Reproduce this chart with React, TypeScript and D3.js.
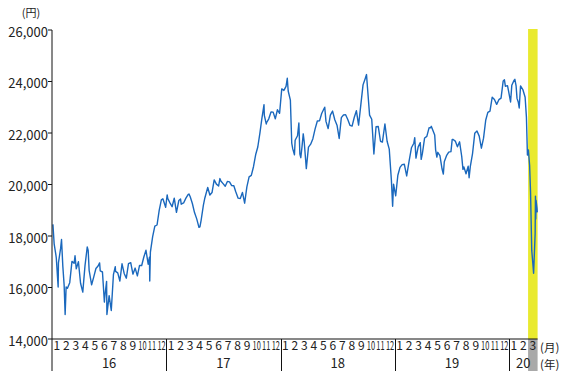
import React from "react";
import * as d3 from "d3";

// Nikkei-style closing prices, date strings and values per year
const dates2016 = ["2016-01-04","2016-01-08","2016-01-14","2016-01-15","2016-01-21","2016-01-22","2016-01-29","2016-02-01","2016-02-05","2016-02-09","2016-02-12","2016-02-15","2016-02-19","2016-02-26","2016-03-04","2016-03-11","2016-03-14","2016-03-18","2016-03-25","2016-04-01","2016-04-08","2016-04-15","2016-04-22","2016-04-25","2016-04-28","2016-05-06","2016-05-13","2016-05-20","2016-05-27","2016-06-01","2016-06-03","2016-06-10","2016-06-16","2016-06-17","2016-06-23","2016-06-24","2016-07-01","2016-07-08","2016-07-15","2016-07-21","2016-07-22","2016-07-29","2016-08-05","2016-08-12","2016-08-19","2016-08-26","2016-09-02","2016-09-09","2016-09-16","2016-09-23","2016-09-30","2016-10-07","2016-10-14","2016-10-21","2016-10-28","2016-11-04","2016-11-08","2016-11-09","2016-11-11","2016-11-18","2016-11-25","2016-12-02","2016-12-09","2016-12-16","2016-12-21","2016-12-30"];
const closes2016 = [18451,17698,17240,17147,16017,16958,17518,17865,16820,16085,14953,16022,15968,16188,17015,16939,17233,16725,17003,16164,15822,16848,17573,17440,16666,16106,16413,16736,16835,16955,16642,16602,15434,15600,16238,14952,15682,15107,16497,16811,16627,16569,16254,16920,16546,16361,16926,16965,16519,16754,16450,16860,16856,17185,17447,16905,17172,16251,17375,17968,18382,18427,18997,19401,19444,19114];

const dates2017 = ["2017-01-04","2017-01-06","2017-01-13","2017-01-20","2017-01-27","2017-02-03","2017-02-10","2017-02-15","2017-02-17","2017-02-24","2017-03-03","2017-03-10","2017-03-13","2017-03-17","2017-03-24","2017-03-31","2017-04-07","2017-04-14","2017-04-17","2017-04-21","2017-04-28","2017-05-02","2017-05-12","2017-05-19","2017-05-26","2017-06-02","2017-06-09","2017-06-16","2017-06-20","2017-06-23","2017-06-30","2017-07-07","2017-07-14","2017-07-21","2017-07-28","2017-08-04","2017-08-10","2017-08-18","2017-08-25","2017-09-01","2017-09-08","2017-09-15","2017-09-22","2017-09-29","2017-10-06","2017-10-13","2017-10-20","2017-10-27","2017-11-02","2017-11-09","2017-11-10","2017-11-16","2017-11-17","2017-11-24","2017-12-01","2017-12-08","2017-12-15","2017-12-22","2017-12-29"];
const closes2017 = [19594,19454,19287,19137,19467,18918,19379,19438,19235,19284,19469,19605,19633,19522,19263,18909,18665,18336,18355,18621,19197,19446,19884,19591,19687,20178,20013,19943,20230,20133,20033,19930,20119,20100,19960,19952,19730,19470,19453,19691,19275,19910,20296,20356,20691,21155,21457,22008,22540,23100,22681,22351,22397,22551,22819,22812,22553,22903,22765];

const dates2018 = ["2018-01-05","2018-01-12","2018-01-19","2018-01-23","2018-01-26","2018-02-02","2018-02-06","2018-02-09","2018-02-14","2018-02-16","2018-02-23","2018-02-27","2018-03-02","2018-03-05","2018-03-09","2018-03-13","2018-03-16","2018-03-23","2018-03-30","2018-04-06","2018-04-13","2018-04-20","2018-04-27","2018-05-04","2018-05-11","2018-05-18","2018-05-21","2018-05-25","2018-06-01","2018-06-08","2018-06-15","2018-06-22","2018-06-29","2018-07-06","2018-07-13","2018-07-20","2018-07-27","2018-08-03","2018-08-10","2018-08-17","2018-08-24","2018-08-31","2018-09-07","2018-09-14","2018-09-21","2018-09-28","2018-10-02","2018-10-05","2018-10-12","2018-10-19","2018-10-26","2018-11-02","2018-11-09","2018-11-16","2018-11-22","2018-11-30","2018-12-07","2018-12-14","2018-12-21","2018-12-25","2018-12-28"];
const closes2018 = [23714,23653,23808,24124,23631,23274,21610,21383,21154,21720,21893,22390,21182,21042,21470,21968,21677,20618,21454,21567,21778,22162,22467,22472,22758,22930,23002,22450,22171,22694,22851,22516,22304,21788,22597,22697,22712,22525,22298,22270,22601,22865,22307,23094,23869,24120,24270,23784,22694,22532,21184,22243,22250,21680,21647,22351,21679,21374,20166,19155,20015];

const dates2019 = ["2019-01-04","2019-01-11","2019-01-18","2019-01-25","2019-02-01","2019-02-08","2019-02-15","2019-02-22","2019-03-01","2019-03-04","2019-03-08","2019-03-15","2019-03-22","2019-03-25","2019-03-29","2019-04-05","2019-04-12","2019-04-19","2019-04-24","2019-04-26","2019-05-07","2019-05-10","2019-05-14","2019-05-17","2019-05-24","2019-05-31","2019-06-04","2019-06-07","2019-06-14","2019-06-21","2019-06-28","2019-07-02","2019-07-05","2019-07-12","2019-07-19","2019-07-26","2019-08-02","2019-08-06","2019-08-09","2019-08-16","2019-08-23","2019-08-26","2019-08-30","2019-09-06","2019-09-13","2019-09-20","2019-09-27","2019-10-04","2019-10-11","2019-10-18","2019-10-25","2019-11-01","2019-11-08","2019-11-15","2019-11-22","2019-11-29","2019-12-06","2019-12-13","2019-12-17","2019-12-20","2019-12-27","2019-12-30"];
const closes2019 = [19562,20360,20666,20774,20788,20333,20901,21426,21603,21822,21025,21451,21627,20977,21206,21807,21871,22201,22200,22259,21923,21345,21067,21250,21118,20601,20409,20885,21117,21259,21276,21754,21747,21686,21467,21658,21088,20586,20685,20419,20711,20261,20704,21200,21988,22079,21879,21410,21799,22493,22800,22851,23392,23303,23113,23294,23355,24023,24066,23817,23838,23657];

const dates2020 = ["2020-01-06","2020-01-10","2020-01-17","2020-01-20","2020-01-24","2020-01-27","2020-01-31","2020-02-03","2020-02-07","2020-02-14","2020-02-21","2020-02-25","2020-02-28","2020-03-02","2020-03-06","2020-03-09","2020-03-13","2020-03-16","2020-03-19","2020-03-24","2020-03-25","2020-03-26","2020-03-27","2020-03-30","2020-03-31"];
const closes2020 = [23205,23851,24041,24083,23827,23344,23205,22972,23828,23688,23387,22606,21143,21344,20750,19699,17431,17002,16553,18092,19547,18665,19389,19084,18917];

const yTicks = [14000, 16000, 18000, 20000, 22000, 24000, 26000];
const years = ["16", "17", "18", "19", "20"];
const monthLabels = ["1","2","3","4","5","6","7","8","9","10","11","12"];
const monthsShown = 51; // Jan 2016 .. Mar 2020
const highlightMonth = 50; // March 2020

const FONT = "'Noto Sans CJK JP', 'Noto Sans', sans-serif";

function monthPos(s: string): number {
  const [Y, M, D] = s.split("-").map(Number);
  const dim = new Date(Y, M, 0).getDate();
  return (Y - 2016) * 12 + (M - 1) + (D - 1) / dim;
}

export default function App() {
  const allDates = [...dates2016, ...dates2017, ...dates2018, ...dates2019, ...dates2020];
  const allCloses = [...closes2016, ...closes2017, ...closes2018, ...closes2019, ...closes2020];
  const pts: [number, number][] = allDates.map((d, i) => [monthPos(d), allCloses[i]]);

  const x = d3.scaleLinear().domain([0, monthsShown]).range([52, 537.6]);
  const y = d3.scaleLinear().domain([14000, 26000]).range([339, 30]);
  const line = d3.line<[number, number]>().x(d => x(d[0])).y(d => y(d[1]));

  const axisBottom = 371;

  const monthTexts: JSX.Element[] = [];
  for (let m = 0; m < monthsShown; m++) {
    const lab = monthLabels[m % 12];
    const cx = x(m + 0.5);
    const sx = lab.length > 1 ? 0.62 : 1;
    monthTexts.push(
      <text key={"m" + m} transform={`translate(${cx},349.5) scale(${sx},1)`} textAnchor="middle" fontSize={12} fill="#222">
        {lab}
      </text>
    );
  }

  return (
    <svg width={563} height={384} style={{ position: "absolute", left: 0, top: 0, fontFamily: FONT }}>
      <rect x={0} y={0} width={563} height={384} fill="#fff" />
      {/* highlight bars */}
      <rect x={x(highlightMonth)} y={29} width={x(highlightMonth + 1) - x(highlightMonth)} height={339 - 29} fill="#e9ea2f" />
      <rect x={x(highlightMonth)} y={339} width={x(highlightMonth + 1) - x(highlightMonth)} height={axisBottom - 339} fill="#a9a9a9" />

      {/* price line */}
      <path d={line(pts) || ""} fill="none" stroke="#1a68bd" strokeWidth={1.4} strokeLinejoin="round" />

      {/* axes */}
      <line x1={52} y1={30} x2={52} y2={axisBottom} stroke="#111" strokeWidth={1} />
      <line x1={52} y1={339} x2={x(monthsShown)} y2={339} stroke="#111" strokeWidth={1} />
      {years.slice(1).map((_, i) => (
        <line key={"yd" + i} x1={Math.round(x((i + 1) * 12)) + 0.5} y1={339} x2={Math.round(x((i + 1) * 12)) + 0.5} y2={axisBottom} stroke="#111" strokeWidth={1} />
      ))}

      {yTicks.map(t => (
        <g key={"t" + t}>
          <line x1={48} y1={y(t)} x2={52} y2={y(t)} stroke="#111" strokeWidth={1} />
          <text x={48} y={y(t) + 6.5} textAnchor="end" fontSize={13} fill="#222">{d3.format(",")(t)}</text>
        </g>
      ))}

      {monthTexts}
      {years.map((yr, i) => {
        const a = x(i * 12);
        const b = x(Math.min((i + 1) * 12, monthsShown));
        return (
          <text key={"y" + yr} x={(a + b) / 2} y={368} textAnchor="middle" fontSize={13} fill="#222">{yr}</text>
        );
      })}

      <text x={31} y={17} textAnchor="middle" fontSize={11} fill="#222">(円)</text>
      <text x={540} y={352} fontSize={11.5} fill="#222">(月)</text>
      <text x={540} y={369} fontSize={11.5} fill="#222">(年)</text>
    </svg>
  );
}
